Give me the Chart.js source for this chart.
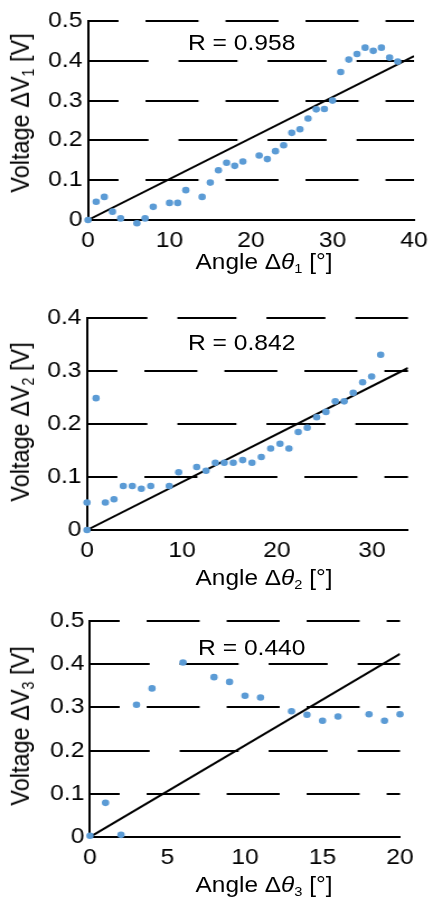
<!DOCTYPE html>
<html>
<head>
<meta charset="utf-8">
<script src="https://cdn.jsdelivr.net/npm/chart.js@4/dist/chart.umd.min.js"></script>
<style>
  body { margin: 0; background: #fff; width: 433px; height: 898px; overflow: hidden;
         font-family: "Liberation Sans", Arial, sans-serif; color: #000; }
  /* the source figure is stretched sideways, so each panel is drawn narrow and widened */
  .panel { position: absolute; left: 0; width: 387px; transform: scaleX(1.1189); transform-origin: 0 0; }
  .box { position: absolute; left: 0; top: 0; width: 387px; height: 100%; }
  .ytitle, .xtitle, .rlab { position: absolute; white-space: nowrap; line-height: 1; }
  .ytitle { font-size: 23.5px; transform: translate(-50%, -50%) rotate(-90deg); }
  .xtitle { font-size: 21.8px; transform: translate(-50%, -50%); }
  .rlab { font-size: 22px; transform: translateY(-50%); }
  sub { font-size: 60%; vertical-align: -0.3em; line-height: 0; }
</style>
</head>
<body>

<div class="panel" style="top:0;height:300px">
  <div class="box"><canvas id="c1"></canvas></div>
  <div class="ytitle" style="left:18.8px;top:113px">Voltage ΔV<sub>1</sub> [V]</div>
  <div class="xtitle" style="left:236px;top:262px">Angle Δ<i>θ</i><sub>1</sub> [°]</div>
  <div class="rlab" style="left:168px;top:42.5px">R = 0.958</div>
</div>

<div class="panel" style="top:300px;height:300px">
  <div class="box"><canvas id="c2"></canvas></div>
  <div class="ytitle" style="left:18.8px;top:122px">Voltage ΔV<sub>2</sub> [V]</div>
  <div class="xtitle" style="left:236px;top:278px">Angle Δ<i>θ</i><sub>2</sub> [°]</div>
  <div class="rlab" style="left:168px;top:42.5px">R = 0.842</div>
</div>

<div class="panel" style="top:600px;height:298px">
  <div class="box"><canvas id="c3"></canvas></div>
  <div class="ytitle" style="left:18.8px;top:126px">Voltage ΔV<sub>3</sub> [V]</div>
  <div class="xtitle" style="left:236px;top:284.5px">Angle Δ<i>θ</i><sub>3</sub> [°]</div>
  <div class="rlab" style="left:177px;top:47.5px">R = 0.440</div>
</div>

<script>
const S = 433 / 387;

// panel 1
const angle1 = [0, 1, 2, 3, 4, 5, 6, 7, 8, 10, 11, 12, 14, 15, 16, 17, 18, 19, 21, 22, 23, 24,
                25, 26, 27, 28, 29, 30, 31, 32, 33, 34, 35, 36, 37, 38];
const volt1 = [0, 0.046, 0.058, 0.021, 0.004, -0.021, -0.008, 0.004, 0.033, 0.043, 0.043, 0.075,
               0.058, 0.094, 0.125, 0.144, 0.136, 0.147, 0.162, 0.153, 0.173, 0.188, 0.219, 0.228,
               0.255, 0.278, 0.279, 0.300, 0.372, 0.403, 0.417, 0.433, 0.425, 0.433, 0.408, 0.398];
const trendX1 = [0, 40];
const trendY1 = [0, 0.412];
const xTicks1 = [0, 10, 20, 30, 40];
const yTicks1 = [0, 0.1, 0.2, 0.3, 0.4, 0.5];

// panel 2
const angle2 = [0, 0, 0.95, 1.93, 2.84, 3.82, 4.77, 5.72, 6.71, 8.66, 9.65, 11.55, 12.53, 13.51,
                14.45, 15.40, 16.39, 17.37, 18.35, 19.34, 20.32, 21.26, 22.24, 23.19, 24.18, 25.16,
                26.14, 27.08, 28.03, 29.02, 29.97, 30.92];
const volt2 = [0.052, 0, 0.249, 0.052, 0.058, 0.083, 0.083, 0.078, 0.083, 0.083, 0.109, 0.119,
               0.112, 0.127, 0.127, 0.127, 0.132, 0.127, 0.138, 0.154, 0.163, 0.154, 0.185, 0.193,
               0.213, 0.223, 0.243, 0.243, 0.259, 0.279, 0.290, 0.331];
const trendX2 = [0, 33.8];
const trendY2 = [0, 0.306];
const xTicks2 = [0, 10, 20, 30];
const yTicks2 = [0, 0.1, 0.2, 0.3, 0.4];

// panel 3
const angle3 = [0, 1, 2, 3, 4, 6, 8, 9, 10, 11, 13, 14, 15, 16, 18, 19, 20];
const volt3 = [0.003, 0.079, 0.005, 0.306, 0.344, 0.404, 0.370, 0.359, 0.327, 0.323, 0.291,
               0.283, 0.269, 0.279, 0.284, 0.269, 0.284];
const trendX3 = [0, 20];
const trendY3 = [0, 0.424];
const xTicks3 = [0, 5, 10, 15, 20];
const yTicks3 = [0, 0.1, 0.2, 0.3, 0.4, 0.5];

const FONT = { family: '"Liberation Sans", Arial, sans-serif', size: 22 };
// gridlines alternate between two dash phases, like the source
const dashOdd = [53 / S, 27 / S];
const dashEven = [59 / S, 30 / S];

function isOdd(c) {
  return c.tick && Math.round(c.tick.value * 10) % 2 === 1;
}

function fmt(v) {
  if (v === 0) return '0';
  return Number.isInteger(v) ? String(v) : v.toFixed(1);
}

function makeChart(id, p) {
  new Chart(document.getElementById(id), {
    type: 'scatter',
    data: {
      datasets: [
        {
          data: p.x.map((x, i) => ({ x: x, y: p.y[i] })),
          backgroundColor: '#5B9BD5',
          borderWidth: 0,
          pointRadius: 3.3,
          clip: false
        },
        {
          data: p.tx.map((x, i) => ({ x: x, y: p.ty[i] })),
          showLine: true,
          borderColor: '#000',
          borderWidth: 2,
          pointRadius: 0
        }
      ]
    },
    options: {
      responsive: true,
      maintainAspectRatio: false,
      animation: false,
      layout: { padding: { left: 0, top: p.top, right: p.right, bottom: 0 } },
      plugins: { legend: { display: false }, tooltip: { enabled: false } },
      scales: {
        x: {
          type: 'linear',
          min: 0,
          max: p.xMax,
          afterBuildTicks: s => { s.ticks = p.xTicks.map(v => ({ value: v })); },
          afterFit: s => { s.height = p.xh; },
          grid: { display: false },
          border: { display: true, color: '#000', width: 2 },
          ticks: { font: FONT, color: '#000', padding: 0, maxRotation: 0, autoSkip: false, callback: fmt }
        },
        y: {
          type: 'linear',
          min: 0,
          max: p.yMax,
          afterBuildTicks: s => { s.ticks = p.yTicks.map(v => ({ value: v })); },
          afterFit: s => { s.width = p.left; },
          grid: { color: '#000', lineWidth: 2, drawTicks: false },
          border: {
            display: true, color: '#000', width: 2,
            dash: c => (c.tick && c.tick.value > 0) ? (isOdd(c) ? dashOdd : dashEven) : [],
            dashOffset: c => isOdd(c) ? 24 / S : 0
          },
          ticks: { font: FONT, color: '#000', padding: 5, autoSkip: false, callback: fmt }
        }
      }
    }
  });
}

makeChart('c1', { x: angle1, y: volt1, tx: trendX1, ty: trendY1, xTicks: xTicks1, yTicks: yTicks1,
  xMax: 40, yMax: 0.5, left: 88 / S, right: 19 / S, top: 21, xh: 80 });
makeChart('c2', { x: angle2, y: volt2, tx: trendX2, ty: trendY2, xTicks: xTicks2, yTicks: yTicks2,
  xMax: 33.8, yMax: 0.4, left: 87 / S, right: 25 / S, top: 14, xh: 70 });
makeChart('c3', { x: angle3, y: volt3, tx: trendX3, ty: trendY3, xTicks: xTicks3, yTicks: yTicks3,
  xMax: 20, yMax: 0.5, left: 90 / S, right: 33 / S, top: 21, xh: 61 });
</script>
</body>
</html>
